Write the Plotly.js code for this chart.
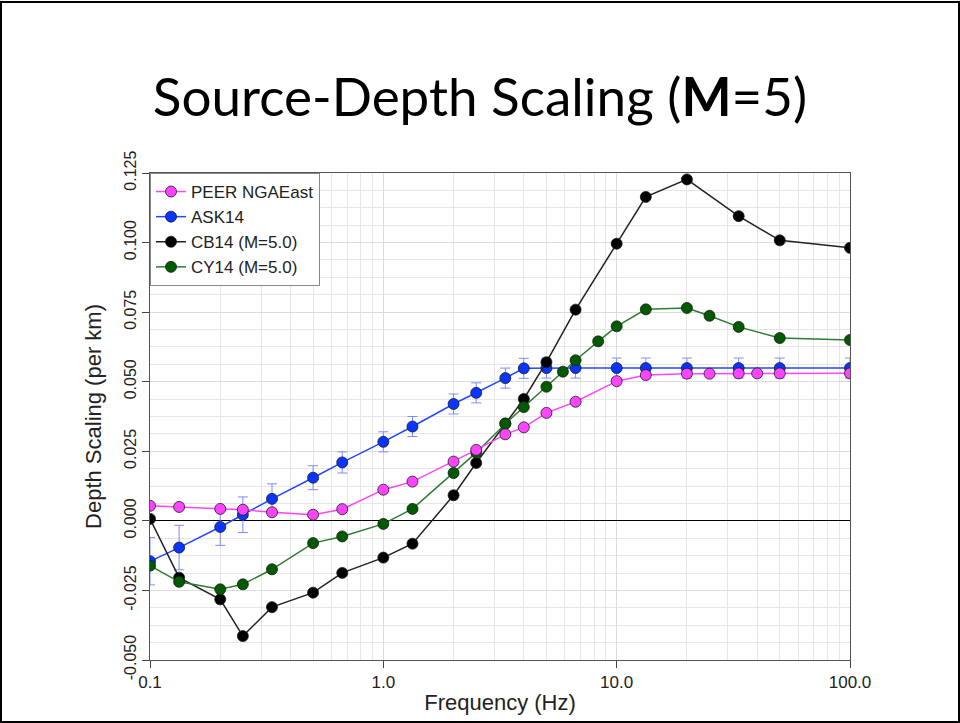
<!DOCTYPE html>
<html>
<head>
<meta charset="utf-8">
<script src="https://cdn.plot.ly/plotly-3.0.1.min.js"></script>
<style>
  html, body { margin: 0; padding: 0; background: #fff; }
  #wrap { position: relative; width: 960px; height: 723px; }
  #chart { width: 960px; height: 723px; }
  #frame { position: absolute; left: 0; top: 1px; width: 956px; height: 718px; border: 2px solid #000; pointer-events: none; }
</style>
</head>
<body>
<div id="wrap">
  <div id="chart"></div>
  <div id="frame"></div>
</div>
<script>
// ---- data ----
const peerFreq = [0.1, 0.1333, 0.2, 0.25, 0.3333, 0.5, 0.6667, 1, 1.3333, 2, 2.5, 3.3333, 4, 5, 6.6667, 10, 13.333, 20, 25, 33.333, 40, 50, 100];
const peerVals = [0.0054, 0.0050, 0.0043, 0.0040, 0.0031, 0.0022, 0.0042, 0.0112, 0.0141, 0.0213, 0.0255, 0.0311, 0.0336, 0.0388, 0.0428, 0.0502, 0.0524, 0.0529, 0.0529, 0.0530, 0.0530, 0.0530, 0.0530];

const askFreq = [0.1, 0.1333, 0.2, 0.25, 0.3333, 0.5, 0.6667, 1, 1.3333, 2, 2.5, 3.3333, 4, 5, 6.6667, 10, 13.333, 20, 33.333, 50, 100];
const askVals = [-0.0145, -0.0096, -0.0022, 0.0022, 0.0079, 0.0155, 0.0210, 0.0284, 0.0339, 0.0420, 0.0460, 0.0513, 0.0548, 0.0549, 0.0549, 0.0549, 0.0549, 0.0549, 0.0549, 0.0549, 0.0549];
const askErr  = [0.0085, 0.0080, 0.0066, 0.0064, 0.0054, 0.0043, 0.0038, 0.0036, 0.0036, 0.0036, 0.0036, 0.0036, 0.0036, 0.0036, 0.0036, 0.0036, 0.0036, 0.0036, 0.0036, 0.0036, 0.0036];

const cbFreq = [0.1, 0.1333, 0.2, 0.25, 0.3333, 0.5, 0.6667, 1, 1.3333, 2, 2.5, 3.3333, 4, 5, 6.6667, 10, 13.333, 20, 33.333, 50, 100];
const cbVals = [0.0007, -0.0204, -0.0282, -0.0414, -0.0310, -0.0258, -0.0187, -0.0132, -0.0082, 0.0092, 0.0208, 0.0350, 0.0438, 0.0570, 0.0759, 0.0996, 0.1164, 0.1227, 0.1095, 0.1008, 0.0981];

const cyFreq = [0.1, 0.1333, 0.2, 0.25, 0.3333, 0.5, 0.6667, 1, 1.3333, 2, 2.5, 3.3333, 4, 5, 5.8824, 6.6667, 8.3333, 10, 13.333, 20, 25, 33.333, 50, 100];
const cyVals = [-0.0161, -0.0219, -0.0246, -0.0228, -0.0174, -0.0080, -0.0056, -0.0011, 0.0043, 0.0172, 0.0245, 0.0349, 0.0409, 0.0482, 0.0536, 0.0577, 0.0645, 0.0699, 0.0760, 0.0765, 0.0737, 0.0697, 0.0657, 0.0650];

const seriesNames = ["PEER NGAEast", "ASK14", "CB14 (M=5.0)", "CY14 (M=5.0)"];

const xTickVals = [0.1, 1, 10, 100];
const xTickText = ["0.1", "1.0", "10.0", "100.0"];
const xMinorVals = [0.2, 0.3, 0.4, 0.5, 0.6, 0.7, 0.8, 0.9, 2, 3, 4, 5, 6, 7, 8, 9, 20, 30, 40, 50, 60, 70, 80, 90];
const yTickVals = [-0.05, -0.025, 0, 0.025, 0.05, 0.075, 0.1, 0.125];
const yTickText = ["-0.050", "-0.025", "0.000", "0.025", "0.050", "0.075", "0.100", "0.125"];

// ---- traces ----
const mk = (color) => ({ size: 11, color: color, line: { color: '#1a1a1a', width: 0.8 } });

const traces = [
  {
    x: askFreq, y: askVals, name: seriesNames[1], legendrank: 2,
    mode: 'lines+markers', type: 'scatter',
    line: { color: '#2448ff', width: 1.5 },
    marker: mk('#0a35ff'),
    error_y: { type: 'data', array: askErr, visible: true, color: '#7d8cff', thickness: 1, width: 5 }
  },
  {
    x: cbFreq, y: cbVals, name: seriesNames[2], legendrank: 3,
    mode: 'lines+markers', type: 'scatter',
    line: { color: '#222222', width: 1.5 },
    marker: mk('#000000')
  },
  {
    x: cyFreq, y: cyVals, name: seriesNames[3], legendrank: 4,
    mode: 'lines+markers', type: 'scatter',
    line: { color: '#2e7d32', width: 1.5 },
    marker: mk('#005a00')
  },
  {
    x: peerFreq, y: peerVals, name: seriesNames[0], legendrank: 1,
    mode: 'lines+markers', type: 'scatter',
    line: { color: '#ff44ff', width: 1.5 },
    marker: mk('#ff44ff')
  }
];

const sans = 'Liberation Sans, Arial, sans-serif';

const layout = {
  width: 960, height: 723,
  paper_bgcolor: '#ffffff', plot_bgcolor: '#ffffff',
  margin: { l: 150, r: 110, t: 173, b: 63, pad: 0 },
  showlegend: true,
  title: {
    text: 'Source-Depth Scaling (<b>M</b>=5)',
    font: { family: 'Lato, "Open Sans", sans-serif', size: 53, color: '#000' },
    x: 0.5, xanchor: 'center', xref: 'container',
    y: 1 - 97 / 723, yanchor: 'middle', yref: 'container'
  },
  legend: {
    x: 0, y: 1, xanchor: 'left', yanchor: 'top', xref: 'paper', yref: 'paper',
    bgcolor: '#ffffff', bordercolor: '#888', borderwidth: 1,
    font: { family: sans, size: 17, color: '#222' },
    itemwidth: 30, traceorder: 'normal'
  },
  xaxis: {
    type: 'log', range: [-1, 2],
    tickmode: 'array', tickvals: xTickVals, ticktext: xTickText,
    ticks: 'outside', ticklen: 7, tickcolor: '#444',
    showline: true, linecolor: '#555', linewidth: 1, mirror: true,
    showgrid: true, gridcolor: '#dcdcdc', gridwidth: 1,
    minor: { tickmode: 'array', tickvals: xMinorVals, showgrid: true, gridcolor: '#e6e6e6', gridwidth: 1, ticks: '' },
    tickfont: { family: sans, size: 17, color: '#222' },
    title: { text: 'Frequency (Hz)', font: { family: sans, size: 22, color: '#222' }, standoff: 3 },
    zeroline: false
  },
  yaxis: {
    range: [-0.05, 0.125],
    tickmode: 'array', tickvals: yTickVals, ticktext: yTickText, tickangle: -90,
    ticks: 'outside', ticklen: 7, tickcolor: '#444',
    showline: true, linecolor: '#555', linewidth: 1, mirror: true,
    showgrid: true, gridcolor: '#dcdcdc', gridwidth: 1,
    minor: { dtick: 0.00625, showgrid: true, gridcolor: '#e6e6e6', gridwidth: 1, ticks: '' },
    zeroline: true, zerolinecolor: '#000', zerolinewidth: 1,
    tickfont: { family: sans, size: 16, color: '#222' },
    title: { text: 'Depth Scaling (per km)', font: { family: sans, size: 22, color: '#222' }, standoff: 13 }
  }
};

Plotly.newPlot('chart', traces, layout, { staticPlot: true, displayModeBar: false });
</script>
</body>
</html>
